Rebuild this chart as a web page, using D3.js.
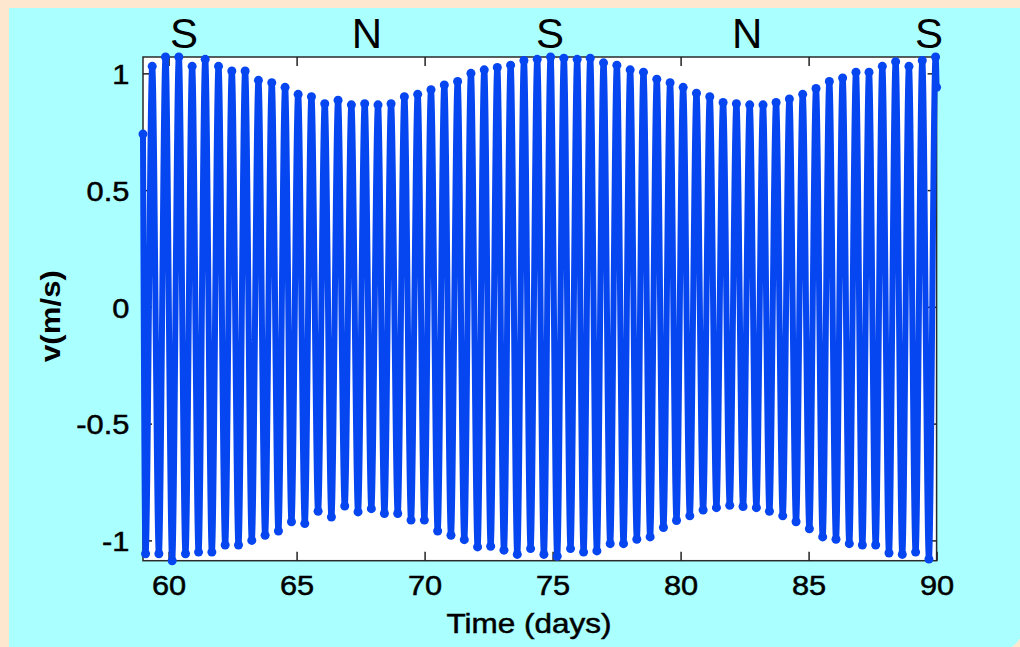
<!DOCTYPE html>
<html lang="en">
<head>
  <meta charset="UTF-8">
  <title>Tidal velocity</title>
  <script src="https://d3js.org/d3.v7.min.js"></script>
  <style>
    html, body {
      margin: 0;
      padding: 0;
      background: #fde8cf;
    }

    svg {
      display: block;
    }

    text {
      font-family: "Liberation Sans", Arial, sans-serif;
      fill: #000;
    }
  </style>
</head>
<body>
  <svg width="1020" height="647"></svg>

  <script>
    // flood (positive) peaks and ebb (negative) troughs
    const peakDays = [
      59.36, 59.88, 60.40, 60.92, 61.43, 61.95, 62.47, 62.99, 63.51, 64.03,
      64.55, 65.06, 65.58, 66.10, 66.62, 67.14, 67.66, 68.18, 68.69, 69.21,
      69.73, 70.25, 70.77, 71.29, 71.81, 72.33, 72.84, 73.36, 73.88, 74.40,
      74.92, 75.44, 75.96, 76.47, 76.99, 77.51, 78.03, 78.55, 79.07, 79.59,
      80.10, 80.62, 81.14, 81.66, 82.18, 82.70, 83.22, 83.73, 84.25, 84.77,
      85.29, 85.81, 86.33, 86.85, 87.36, 87.88, 88.40, 88.92, 89.44, 89.96
    ];
    const peakVel = [
      1.03, 1.07, 1.07, 1.03, 1.06, 1.03, 1.01, 1.01, 0.97, 0.96,
      0.94, 0.91, 0.90, 0.87, 0.885, 0.865, 0.87, 0.865, 0.87, 0.90,
      0.91, 0.93, 0.95, 0.965, 1.0, 1.015, 1.025, 1.035, 1.055, 1.06,
      1.07, 1.065, 1.06, 1.065, 1.045, 1.035, 1.015, 1.005, 0.975, 0.96,
      0.94, 0.915, 0.90, 0.875, 0.87, 0.865, 0.865, 0.875, 0.89, 0.91,
      0.935, 0.965, 0.98, 1.005, 1.005, 1.03, 1.05, 1.03, 1.055, 1.07
    ];
    const troughDays = [
      59.10, 59.62, 60.14, 60.66, 61.17, 61.69, 62.21, 62.73, 63.25, 63.77,
      64.29, 64.80, 65.32, 65.84, 66.36, 66.88, 67.40, 67.92, 68.43, 68.95,
      69.47, 69.99, 70.51, 71.03, 71.55, 72.07, 72.58, 73.10, 73.62, 74.14,
      74.66, 75.18, 75.70, 76.21, 76.73, 77.25, 77.77, 78.29, 78.81, 79.33,
      79.84, 80.36, 80.88, 81.40, 81.92, 82.44, 82.96, 83.47, 83.99, 84.51,
      85.03, 85.55, 86.07, 86.59, 87.10, 87.62, 88.14, 88.66, 89.18, 89.70
    ];
    const troughVel = [
      -1.057, -1.057, -1.087, -1.057, -1.05, -1.05, -1.02, -1.02, -1.0, -0.978,
      -0.96, -0.92, -0.928, -0.875, -0.9, -0.853, -0.878, -0.864, -0.885, -0.885,
      -0.913, -0.913, -0.96, -0.978, -0.997, -1.028, -1.025, -1.042, -1.06, -1.035,
      -1.06, -1.068, -1.035, -1.05, -1.045, -1.014, -1.014, -0.995, -0.985, -0.945,
      -0.915, -0.895, -0.87, -0.86, -0.85, -0.855, -0.86, -0.875, -0.895, -0.92,
      -0.95, -0.985, -0.995, -1.014, -1.02, -1.02, -1.054, -1.06, -1.05, -1.08
    ];
    // first and last samples of the record
    const edgeDays = [59.0, 90.0];
    const edgeVel = [0.74, 0.94];

    const xTicks = [60, 65, 70, 75, 80, 85, 90];
    const yTicks = [-1, -0.5, 0, 0.5, 1];

    const phaseLabels = [`S`, `N`, `S`, `N`, `S`];
    const phaseDays = [60.6, 67.75, 74.9, 82.6, 89.7];

    const plot = {left: 143, right: 936.6, top: 57, bottom: 560.7};
    const blue = `#0646f0`;
    const cyan = `#aaffff`;
    const stretch = `scale(1.1,1)`;

    const series = [
      ...edgeDays.map((d, i) => ({day: d, v: edgeVel[i]})),
      ...peakDays.map((d, i) => ({day: d, v: peakVel[i]})),
      ...troughDays.map((d, i) => ({day: d, v: troughVel[i]})),
    ].sort((a, b) => a.day - b.day);

    const xScale = d3.scaleLinear()
      .domain([59, 90])
      .range([plot.left, plot.right]);

    const yScale = d3.scaleLinear()
      .domain([-1.087, 1.07])
      .range([plot.bottom, plot.top]);

    const svg = d3.select(`svg`);

    // cyan panel, only its bottom-right corner is rounded
    svg.append(`rect`)
      .attr(`x`, 9)
      .attr(`y`, 8)
      .attr(`width`, 1016)
      .attr(`height`, 644)
      .attr(`rx`, 30)
      .attr(`fill`, cyan);

    svg.append(`rect`)
      .attr(`x`, 9)
      .attr(`y`, 8)
      .attr(`width`, 1011)
      .attr(`height`, 600)
      .attr(`fill`, cyan);

    svg.append(`rect`)
      .attr(`x`, 9)
      .attr(`y`, 8)
      .attr(`width`, 960)
      .attr(`height`, 639)
      .attr(`fill`, cyan);

    svg.append(`rect`)
      .attr(`x`, plot.left)
      .attr(`y`, plot.top)
      .attr(`width`, plot.right - plot.left)
      .attr(`height`, plot.bottom - plot.top)
      .attr(`fill`, `#fff`)
      .attr(`stroke`, `#2a2a2a`)
      .attr(`stroke-width`, 1.5);

    const styleAxis = g => {
      g.select(`.domain`).remove();
      g.selectAll(`line`).attr(`stroke`, `#222`).attr(`stroke-width`, 1.5);
      g.selectAll(`text`)
        .attr(`font-size`, 28)
        .attr(`font-family`, `"Liberation Sans", Arial, sans-serif`)
        .attr(`fill`, `#000`)
        .attr(`stroke`, `#000`)
        .attr(`stroke-width`, 0.5)
        .attr(`transform`, stretch);
    };

    svg.append(`g`)
      .attr(`transform`, `translate(0, ${plot.bottom})`)
      .call(d3.axisBottom(xScale).tickValues(xTicks).tickSizeInner(-9).tickSizeOuter(0).tickPadding(14.5))
      .call(styleAxis);

    svg.append(`g`)
      .attr(`transform`, `translate(0, ${plot.top})`)
      .call(d3.axisTop(xScale).tickValues(xTicks).tickSizeInner(-9).tickSizeOuter(0).tickFormat(``))
      .call(styleAxis);

    svg.append(`g`)
      .attr(`transform`, `translate(${plot.left}, 0)`)
      .call(d3.axisLeft(yScale).tickValues(yTicks).tickSizeInner(-9).tickSizeOuter(0).tickPadding(12.4)
        .tickFormat(d => `${d}`))
      .call(styleAxis)
      .selectAll(`text`).attr(`dy`, `0.37em`);

    svg.append(`g`)
      .attr(`transform`, `translate(${plot.right}, 0)`)
      .call(d3.axisRight(yScale).tickValues(yTicks).tickSizeInner(-9).tickSizeOuter(0).tickFormat(``))
      .call(styleAxis);

    const line = d3.line()
      .x(d => xScale(d.day))
      .y(d => yScale(d.v))
      .curve(d3.curveMonotoneX);

    svg.append(`path`)
      .attr(`d`, line(series))
      .attr(`fill`, `none`)
      .attr(`stroke`, blue)
      .attr(`stroke-width`, 6)
      .attr(`stroke-linejoin`, `round`);

    svg.append(`g`)
      .selectAll(`circle`)
      .data(series)
      .join(`circle`)
      .attr(`cx`, d => xScale(d.day))
      .attr(`cy`, d => yScale(d.v))
      .attr(`r`, 4.5)
      .attr(`fill`, blue);

    svg.append(`text`)
      .attr(`x`, 529)
      .attr(`y`, 633)
      .attr(`text-anchor`, `middle`)
      .attr(`font-size`, 28)
      .attr(`stroke`, `#000`)
      .attr(`stroke-width`, 0.5)
      .attr(`textLength`, 165)
      .attr(`lengthAdjust`, `spacingAndGlyphs`)
      .text(`Time (days)`);

    svg.append(`text`)
      .attr(`transform`, `translate(60, 316) rotate(-90)`)
      .attr(`text-anchor`, `middle`)
      .attr(`font-size`, 28)
      .attr(`font-weight`, `bold`)
      .attr(`textLength`, 92)
      .attr(`lengthAdjust`, `spacingAndGlyphs`)
      .text(`v(m/s)`);

    svg.append(`g`)
      .selectAll(`text`)
      .data(phaseLabels)
      .join(`text`)
      .attr(`x`, (d, i) => xScale(phaseDays[i]))
      .attr(`y`, 48)
      .attr(`text-anchor`, `middle`)
      .attr(`font-size`, 42)
      .attr(`font-family`, `"Open Sans", "Noto Sans", sans-serif`)
      .text(d => d);
  </script>
</body>
</html>
